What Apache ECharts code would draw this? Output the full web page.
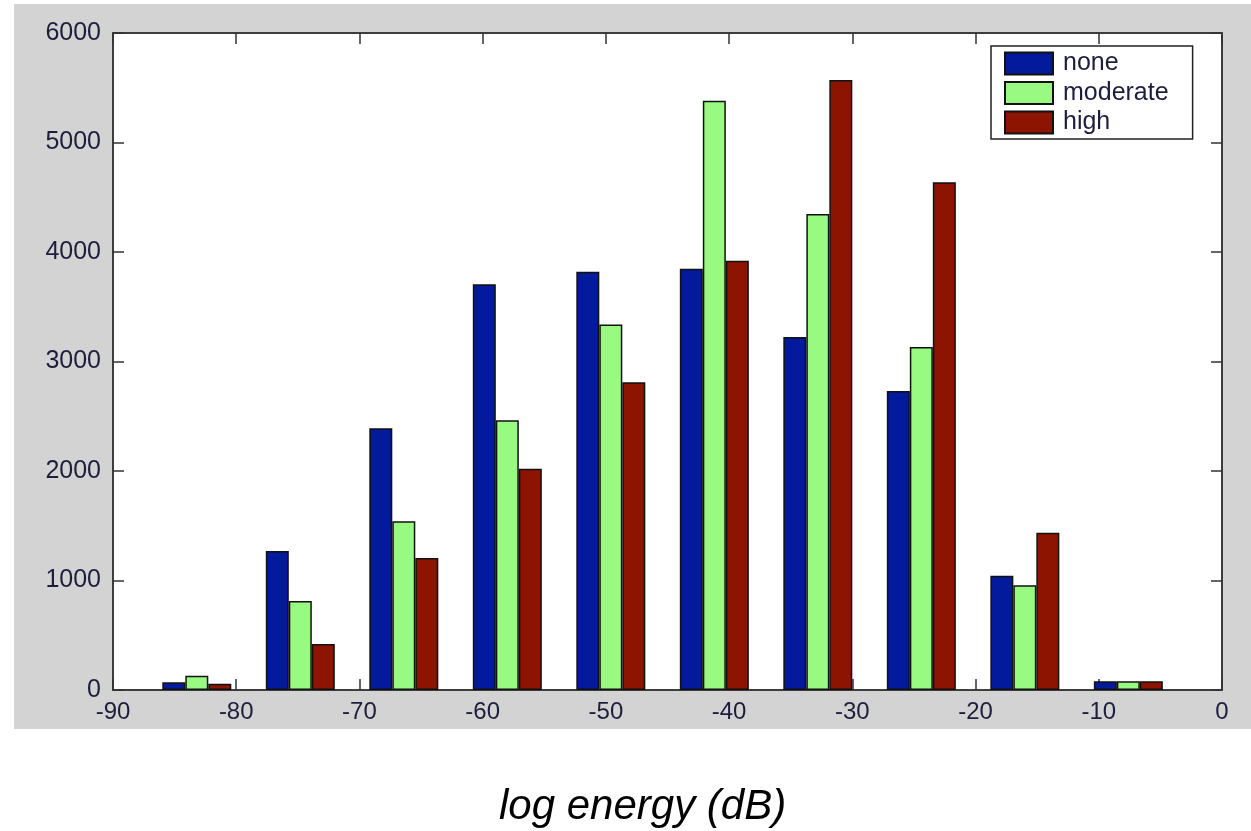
<!DOCTYPE html>
<html>
<head>
<meta charset="utf-8">
<script src="https://cdn.jsdelivr.net/npm/echarts@6/dist/echarts.min.js"></script>
<style>
  html, body { margin: 0; padding: 0; background: #fff; }
  #main { width: 1251px; height: 831px; }
</style>
</head>
<body>
<div id="main"></div>
<script>
// bin centres (dB) and counts per class
var binCenters = [-83.2, -74.8, -66.4, -58.0, -49.6, -41.2, -32.8, -24.4, -16.0, -7.6];
var noneCounts = [70, 1269, 2390, 3705, 3820, 3848, 3224, 2731, 1044, 80];
var moderateCounts = [131, 813, 1541, 2463, 3339, 5382, 4347, 3132, 956, 80];
var highCounts = [58, 420, 1205, 2021, 2810, 3921, 5571, 4636, 1437, 80];
var seriesNames = ['none', 'moderate', 'high'];
var seriesColors = ['#031a9c', '#98fa80', '#8c1400'];

var myChart = echarts.init(document.getElementById('main'));
var labelFont = 'Liberation Sans, Arial, sans-serif';
var tickColor = '#1e1e3c';

function pairs(values) {
    return binCenters.map(function (x, i) { return [x, values[i]]; });
}

var allCounts = [noneCounts, moderateCounts, highCounts];
var series = allCounts.map(function (vals, i) {
    return {
        name: seriesNames[i],
        type: 'bar',
        xAxisIndex: 0,
        yAxisIndex: 0,
        barWidth: 23,
        barGap: '0%',
        data: pairs(vals),
        itemStyle: {
            color: seriesColors[i],
            borderColor: '#111',
            borderWidth: 1.5
        }
    };
});

var axisLine = { show: true, onZero: false, lineStyle: { color: '#333', width: 1.5 } };
var axisTick = { show: true, inside: true, length: 11, lineStyle: { color: '#333', width: 1.5 } };

var option = {
    backgroundColor: '#fff',
    animation: false,
    graphic: [{
        type: 'rect',
        z: -10,
        shape: { x: 14, y: 4, width: 1237, height: 725 },
        style: { fill: '#d3d3d3' }
    }, {
        type: 'text',
        left: 499,
        top: 786,
        style: {
            text: 'log energy (dB)',
            font: 'italic 42px Liberation Sans, Arial, sans-serif',
            fill: '#000'
        }
    }],
    grid: {
        left: 113,
        top: 33,
        right: 29,
        bottom: 141,
        show: true,
        backgroundColor: '#fff',
        borderColor: '#333',
        borderWidth: 1.5
    },
    legend: {
        orient: 'vertical',
        left: 991,
        top: 46,
        itemWidth: 48,
        itemHeight: 22,
        itemGap: 4.5,
        padding: [5, 24, 4, 13],
        backgroundColor: '#fff',
        borderColor: '#222',
        borderWidth: 1.5,
        icon: 'rect',
        data: seriesNames,
        textStyle: {
            fontSize: 25, fontFamily: labelFont, color: tickColor,
            padding: [0, 0, 0, 5]
        }
    },
    xAxis: [{
        type: 'value',
        min: -90,
        max: 0,
        interval: 10,
        axisLine: axisLine,
        axisTick: axisTick,
        splitLine: { show: false },
        axisLabel: { fontSize: 24, fontFamily: labelFont, color: tickColor, margin: 10 }
    }, {
        type: 'value',
        position: 'top',
        min: -90,
        max: 0,
        interval: 10,
        axisLine: axisLine,
        axisTick: axisTick,
        splitLine: { show: false },
        axisLabel: { show: false }
    }],
    yAxis: [{
        type: 'value',
        min: 0,
        max: 6000,
        interval: 1000,
        axisLine: axisLine,
        axisTick: axisTick,
        splitLine: { show: false },
        axisLabel: {
            fontSize: 25, fontFamily: labelFont, color: tickColor, margin: 12,
            formatter: function (v) { return String(v); }
        }
    }, {
        type: 'value',
        position: 'right',
        min: 0,
        max: 6000,
        interval: 1000,
        axisLine: axisLine,
        axisTick: axisTick,
        splitLine: { show: false },
        axisLabel: { show: false }
    }],
    series: series
};

myChart.setOption(option);
</script>
</body>
</html>
